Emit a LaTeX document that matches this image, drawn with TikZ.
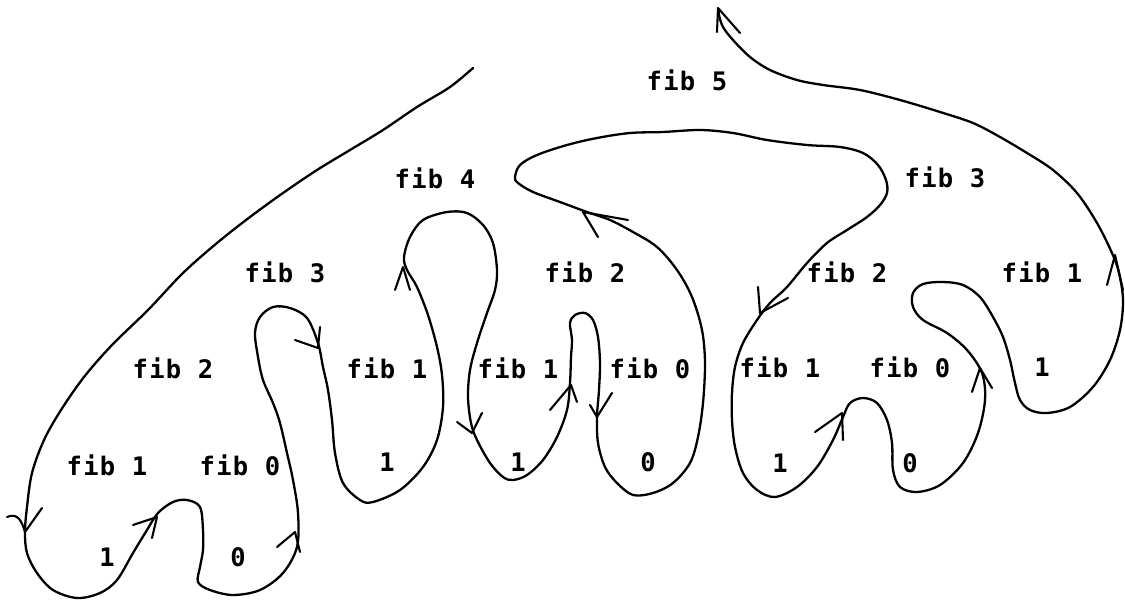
\documentclass[tikz,border=0pt]{standalone}
\usepackage{fontspec}
\newfontfamily\labfont[LetterSpace=5]{DejaVu Sans Mono}
\begin{document}
\begin{tikzpicture}[x=1pt,y=-1pt,
  lab/.style={font=\labfont\bfseries\fontsize{25.5}{25.5}\selectfont,inner sep=0pt,anchor=center},
  curve/.style={line width=2.3pt,line join=round,line cap=round},
  chev/.style={line width=2.1pt,line join=round,line cap=round}]
\useasboundingbox (0,0) rectangle (1125,600);
% main curve
\draw[curve] plot[smooth,tension=0.55] coordinates {
(473,68) (450,87) (417,107) (383,130) (350,150) (317,170) (283,193) (250,217)
(217,243) (183,273) (148,310) (112,345) (84,377) (61,410) (44,440)
(32,473) (27,507) (25,532) (27,553) (37,573)
(53,590) (77,598) (100,593) (117,580) (133,553) (147,530) (158,513) (173,502)
(187,500) (200,507) (203,530) (203,550) (200,567) (198,582) (210,590) (233,595)
(260,590) (283,573) (297,547) (298,513) (293,480) (287,453) (280,423) (273,403)
(263,380) (258,357) (255,333) (260,317) (273,307) (290,308) (307,318) (318,343)
(323,367) (328,390) (332,420) (335,453) (343,483) (360,500) (373,502) (400,490)
(423,467) (437,440) (443,407) (442,375) (437,347) (428,315) (417,287) (407,270)
(404,257) (410,237) (423,220) (447,212) (467,213) (483,225) (493,243) (497,270)
(495,290) (487,313) (477,343) (470,370) (468,397) (471,423) (477,440) (490,463)
(503,477) (513,480) (527,475) (543,460) (557,437) (567,410) (570,383) (571,357)
(572,340) (570,323) (575,315) (585,313) (593,320) (598,337) (600,363) (599,390)
(597,417) (598,443) (605,467) (617,483) (633,495) (653,493) (673,483) (690,463)
(698,437) (703,403) (705,363) (702,330) (692,297) (677,270) (657,247) (633,232)
(610,220) (587,212) (560,202) (533,192) (518,183) (515,177) (520,165) (537,155)
(567,145) (597,138) (630,133) (663,132) (700,130) (733,133) (767,140) (807,145)
(840,147) (863,153) (878,165) (886,180) (887,193) (880,205) (867,217) (847,230)
(827,243) (807,263) (787,287) (770,303) (757,320) (743,343) (735,367) (732,393)
(732,420) (735,447) (743,473) (757,490) (775,497) (797,487) (817,467) (833,440)
(843,417) (850,403) (863,398) (877,403) (887,420) (892,443) (893,470) (900,487)
(917,492) (940,485) (963,463) (978,433) (985,400) (982,373) (967,350) (947,333)
(923,320) (913,307) (913,293) (923,284) (943,282) (963,285) (980,297) (993,317)
(1003,337) (1010,360) (1015,383) (1020,400) (1030,410) (1047,413) (1070,407)
(1093,387) (1110,360) (1120,330) (1123,300) (1119,273) (1112,253) (1097,223)
(1077,193) (1053,170) (1027,153) (1000,137) (973,123) (940,112) (900,100)
(860,90) (823,85) (797,80) (770,70) (750,57) (733,40) (723,27) (719,15) (719,10)};
% end arrowhead
\draw[chev] (717,32) -- (718,8) -- (740,33);
% chevrons along the curve
\draw[chev] (7,517) .. controls (18,512) and (22,522) .. (25,532) -- (42,508);
\draw[chev] (133,525) -- (157,517) -- (152,538);
\draw[chev] (277,547) -- (295,532) -- (300,552);
\draw[chev] (295,340) -- (318,348) -- (320,327);
\draw[chev] (395,290) -- (403,267) -- (410,290);
\draw[chev] (457,422) -- (472,433) -- (482,413);
\draw[chev] (550,410) -- (571,385) -- (577,402);
\draw[chev] (590,405) -- (597,417) -- (612,393);
\draw[chev] (628,220) -- (583,212) -- (598,237);
\draw[chev] (758,287) -- (760,313) -- (788,298);
\draw[chev] (815,432) -- (842,413) -- (843,440);
\draw[chev] (972,392) -- (980,368) -- (992,388);
\draw[chev] (1107,285) -- (1115,255) -- (1123,290);
% labels
\node[lab] (f5)  at (687,80)  {fib 5};
\node[lab] (f4)  at (435,178) {fib 4};
\node[lab] (f3a) at (285,272) {fib 3};
\node[lab] (f3b) at (945,177) {fib 3};
\node[lab] (f2a) at (173,368) {fib 2};
\node[lab] (f2b) at (585,272) {fib 2};
\node[lab] (f2c) at (847,272) {fib 2};
\node[lab] (f1a) at (107,465) {fib 1};
\node[lab] (f0a) at (240,465) {fib 0};
\node[lab] (o1a) at (107,557) {1};
\node[lab] (z0a) at (238,557) {0};
\node[lab] (f1b) at (387,368) {fib 1};
\node[lab] (o1b) at (387,462) {1};
\node[lab] (f1c) at (518,368) {fib 1};
\node[lab] (f0b) at (650,368) {fib 0};
\node[lab] (o1c) at (518,462) {1};
\node[lab] (z0b) at (648,462) {0};
\node[lab] (f1d) at (1042,272) {fib 1};
\node[lab] (o1d) at (1042,367) {1};
\node[lab] (f1e) at (780,367) {fib 1};
\node[lab] (f0c) at (910,367) {fib 0};
\node[lab] (o1e) at (780,463) {1};
\node[lab] (z0c) at (910,463) {0};
\end{tikzpicture}
\end{document}
